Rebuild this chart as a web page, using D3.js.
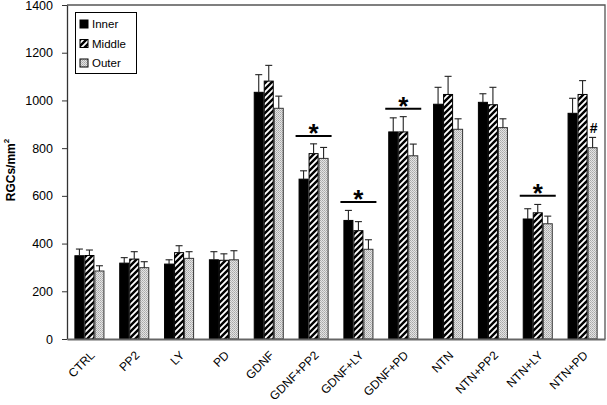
<!DOCTYPE html>
<html><head><meta charset="utf-8">
<script src="https://cdn.jsdelivr.net/npm/d3@7"></script>
<style>body{margin:0;background:#fff}svg{display:block;font-family:"Liberation Sans",Arial,sans-serif}</style>
</head><body><svg id="c" width="607" height="405"></svg>
<script>
const categories = ["CTRL","PP2","LY","PD","GDNF","GDNF+PP2","GDNF+LY","GDNF+PD","NTN","NTN+PP2","NTN+LY","NTN+PD"];
const seriesNames = ["Inner","Middle","Outer"];
const inner  = [349,318,314,332,1034,670,497,868,984,992,503,946];
const middle = [350,335,362,330,1081,777,454,868,1025,982,529,1025];
const outer  = [285,299,338,332,967,757,376,768,879,886,483,802];
const innerErr  = [28,23,18,34,74,35,42,59,71,36,43,63];
const middleErr = [23,31,29,27,66,41,38,64,76,73,35,58];
const outerErr  = [22,25,28,38,51,46,40,49,44,37,32,43];
const yTicks = [0,200,400,600,800,1000,1200,1400];
const sigGroups = ["GDNF+PP2","GDNF+LY","GDNF+PD","NTN+LY"];
const sigLevels = [851,574,965,600];
const hashGroup = "NTN+PD";

const values = [inner, middle, outer];
const errs = [innerErr, middleErr, outerErr];
const svg = d3.select("#c");
const L = 67, R = 605, T = 5, B = 339;

const defs = svg.append("defs");
const hatch = defs.append("pattern").attr("id","hatch").attr("patternUnits","userSpaceOnUse")
  .attr("width",6).attr("height",6);
hatch.append("rect").attr("width",6).attr("height",6).attr("fill","#fff");
hatch.append("path").attr("d","M-1,1 l2,-2 M0,6 l6,-6 M5,7 l2,-2").attr("stroke","#000").attr("stroke-width",2.4);
const dots = defs.append("pattern").attr("id","dots").attr("patternUnits","userSpaceOnUse")
  .attr("width",2).attr("height",2);
dots.append("rect").attr("width",2).attr("height",2).attr("fill","#e4e4e4");
dots.append("rect").attr("width",1).attr("height",1).attr("fill","#a8a8a8");
dots.append("rect").attr("x",1).attr("y",1).attr("width",1).attr("height",1).attr("fill","#b8b8b8");
const fills = ["#000","url(#hatch)","url(#dots)"];
const strokes = ["#000","#000","#333"];

const x0 = d3.scaleBand().domain(categories).range([L,R]).paddingInner(0.33).paddingOuter(0.165);
const x1 = d3.scaleBand().domain(seriesNames).range([0,x0.bandwidth()]);
const y = d3.scaleLinear().domain([0,1400]).range([B,T]);

svg.append("path").attr("d",`M${L},${T}H${R}V${B}`).attr("fill","none").attr("stroke","#555").attr("stroke-width",1.3);

seriesNames.forEach((s,si)=>{
  const g = svg.append("g");
  g.selectAll("rect").data(categories).join("rect")
    .attr("x",c=>x0(c)+x1(s)+0.5)
    .attr("y",(c,i)=>y(values[si][i]))
    .attr("width",x1.bandwidth()-1)
    .attr("height",(c,i)=>B-y(values[si][i]))
    .attr("fill",fills[si]).attr("stroke",strokes[si]).attr("stroke-width",1);
  const eg = svg.append("g").attr("stroke","#222").attr("stroke-width",1.1);
  categories.forEach((c,i)=>{
    const cx = x0(c)+x1(s)+x1.bandwidth()/2;
    const top = y(values[si][i]+errs[si][i]);
    eg.append("line").attr("x1",cx).attr("x2",cx).attr("y1",y(values[si][i])).attr("y2",top);
    eg.append("line").attr("x1",cx-3.5).attr("x2",cx+3.5).attr("y1",top).attr("y2",top);
  });
});

sigGroups.forEach((c,i)=>{
  const cx = x0(c)+x0.bandwidth()/2;
  const ly = y(sigLevels[i]);
  svg.append("line").attr("x1",cx-18).attr("x2",cx+18).attr("y1",ly).attr("y2",ly)
    .attr("stroke","#000").attr("stroke-width",2);
  svg.append("text").attr("x",cx).attr("y",ly+6).attr("text-anchor","middle")
    .attr("font-size",26).attr("font-weight","bold").text("*");
});
{
  const hi = categories.indexOf(hashGroup);
  const cx = x0(hashGroup)+x1("Outer")+x1.bandwidth()/2+1;
  svg.append("text").attr("x",cx).attr("y",y(outer[hi]+outerErr[hi])-4).attr("text-anchor","middle")
    .attr("font-size",14).attr("font-weight","bold").text("#");
}

const ya = svg.append("g").attr("transform",`translate(${L},0)`)
  .call(d3.axisLeft(y).tickValues(yTicks).tickFormat(d3.format("d")).tickSize(5).tickPadding(9).tickSizeOuter(0));
ya.select(".domain").attr("stroke","#333").attr("stroke-width",1.3);
ya.selectAll(".tick line").attr("stroke","#333");
ya.selectAll("text").attr("font-size",12.5).attr("fill","#000").attr("font-family","Liberation Sans, Arial");

// x axis via d3 axis, labels rotated -45
const xa = svg.append("g").attr("transform",`translate(0,${B})`)
  .call(d3.axisBottom(x0).tickSize(0).tickPadding(0).tickSizeOuter(0));
xa.select(".domain").attr("stroke","#666").attr("stroke-width",2);
xa.selectAll(".tick text")
  .attr("x",0).attr("y",0).attr("dy",null)
  .attr("transform",`translate(6,17) rotate(-45)`)
  .attr("text-anchor","end").attr("font-size",12).attr("fill","#000")
  .attr("font-family","Liberation Sans, Arial");

const yl = svg.append("text").attr("transform","translate(15,170) rotate(-90)")
  .attr("text-anchor","middle").attr("font-size",12).attr("font-weight","bold");
yl.append("tspan").text("RGCs/mm");
yl.append("tspan").attr("font-size",8).attr("dy",-6).text("2");

const lg = svg.append("g");
lg.append("rect").attr("x",75.5).attr("y",12.5).attr("width",61).attr("height",61).attr("fill","#fff").attr("stroke","#000");
seriesNames.forEach((s,i)=>{
  const yy = 24 + i*19.5;
  lg.append("rect").attr("x",80).attr("y",yy-4).attr("width",8).attr("height",8)
    .attr("fill",fills[i]).attr("stroke","#000").attr("stroke-width",1);
  lg.append("text").attr("x",92).attr("y",yy+4).attr("font-size",11.5).text(s);
});
</script></body></html>
